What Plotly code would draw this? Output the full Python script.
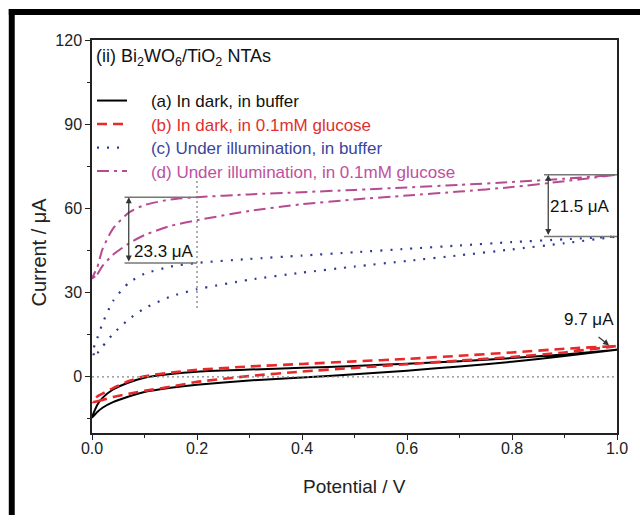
import plotly.graph_objects as go

# Potential grid (V) for each branch of the scans
potential = [0, 0.01, 0.02, 0.04, 0.07, 0.1, 0.15, 0.2, 0.3, 0.4, 0.5, 0.6, 0.7, 0.8, 0.9, 1.0]

# (a) In dark, in buffer
a_forward = [-14.5, -12.5, -11.0, -9.0, -7.0, -5.4, -3.9, -2.8, -1.3, -0.2, 0.9, 2.2, 3.7, 5.4, 7.4, 9.7]
a_reverse = [-14.5, -10.0, -7.5, -4.5, -2.0, -0.3, 1.0, 1.8, 2.6, 3.2, 3.9, 4.7, 5.6, 6.7, 8.0, 9.7]
# (b) In dark, in 0.1mM glucose
b_forward = [-9.0, -8.7, -8.2, -7.2, -6.0, -5.0, -3.5, -1.8, 0.3, 1.9, 3.2, 4.5, 5.8, 7.1, 8.7, 11.0]
b_reverse = [-9.0, -7.0, -6.0, -4.0, -1.5, 0.2, 1.5, 2.5, 3.7, 4.6, 5.5, 6.4, 7.5, 8.7, 10.0, 11.0]
# (c) Under illumination, in buffer
c_forward = [8.0, 8.5, 10.8, 15.3, 20.5, 24.4, 28.6, 31.2, 34.6, 37.1, 39.3, 41.3, 43.3, 45.4, 47.6, 50.0]
c_reverse = [8.0, 13.8, 19.0, 27.0, 33.5, 36.7, 39.3, 40.6, 42.0, 43.2, 44.4, 45.6, 46.8, 48.0, 49.0, 50.0]
# (d) Under illumination, in 0.1mM glucose
d_forward = [35.0, 36.5, 39.5, 43.5, 47.5, 50.5, 53.8, 55.8, 59.1, 61.5, 63.2, 64.6, 66.0, 67.6, 69.7, 72.0]
d_reverse = [35.0, 39.0, 45.5, 52.8, 58.5, 61.2, 63.2, 64.0, 65.0, 65.8, 66.6, 67.5, 68.4, 69.4, 70.6, 72.0]

names = ["(a) In dark, in buffer", "(b) In dark, in 0.1mM glucose",
         "(c) Under illumination, in buffer", "(d) Under illumination, in 0.1mM glucose"]
colors = ["#000000", "#e8282a", "#2e3b93", "#b84a92"]
text_colors = ["#111111", "#e03030", "#3a45a0", "#c050a0"]
dashes = ["solid", "10px,6px", "2px,8px", "12px,5px,3px,5px"]
widths = [2.0, 2.6, 2.2, 2.0]
series = [(a_forward, a_reverse), (b_forward, b_reverse), (c_forward, c_reverse), (d_forward, d_reverse)]

# annotation values
delta_left = [40.6, 64.0]   # at 0.2 V
delta_right = [50.0, 72.0]  # at 1.0 V

# plot-area pixel geometry (for paper-coordinate placement)
L, R, T, B = 92, 622, 40, 433
def px(xp):
    return (xp - L) / (R - L)
def py(yp):
    return (B - yp) / (B - T)

legend_rows = [101, 124.5, 148, 171.5]
legend_ids = ["legend", "legend2", "legend3", "legend4"]

fig = go.Figure()
pad = "\u00a0" * 4
for (fw, rv), nm, col, tc, ds, w, lid in zip(series, names, colors, text_colors, dashes, widths, legend_ids):
    xs = potential + potential[::-1]
    ys = fw + rv[::-1]
    fig.add_trace(go.Scatter(x=xs, y=ys, mode="lines", legend=lid,
                             line=dict(color=col, dash=ds, width=w, shape="spline", smoothing=0.6),
                             name=f"<span style='color:{tc}'>{pad}{nm}</span>"))

font = "Liberation Sans, Arial, sans-serif"
shapes = [
    dict(type="line", xref="x", yref="y", x0=0, x1=1, y0=0, y1=0, line=dict(color="#888", width=1.2, dash="2px,3px")),
    dict(type="line", xref="x", yref="y", x0=0.2, x1=0.2, y0=24.5, y1=71, line=dict(color="#777", width=1.2, dash="2px,3px")),
    dict(type="line", xref="x", yref="y", x0=0.062, x1=0.2, y0=delta_left[1], y1=delta_left[1], line=dict(color="#777", width=1.5)),
    dict(type="line", xref="x", yref="y", x0=0.062, x1=0.2, y0=delta_left[0], y1=delta_left[0], line=dict(color="#777", width=1.5)),
    dict(type="line", xref="x", yref="y", x0=0.861, x1=1.0, y0=delta_right[1], y1=delta_right[1], line=dict(color="#777", width=1.5)),
    dict(type="line", xref="x", yref="y", x0=0.861, x1=1.0, y0=delta_right[0], y1=delta_right[0], line=dict(color="#777", width=1.5)),
    # outer black frame (top and left)
    dict(type="rect", xref="paper", yref="paper", x0=px(8), x1=px(660), y0=py(9), y1=py(15),
         fillcolor="black", line=dict(width=0)),
    dict(type="rect", xref="paper", yref="paper", x0=px(8), x1=px(14), y0=py(9), y1=py(530),
         fillcolor="black", line=dict(width=0)),
]

ann_font = dict(family=font, size=17, color="#111")
annotations = [
    dict(xref="paper", yref="paper", x=px(94), y=py(58), xanchor="left", yanchor="middle",
         text="(ii) Bi<sub>2</sub>WO<sub>6</sub>/TiO<sub>2</sub> NTAs", showarrow=False,
         font=dict(family=font, size=18, color="#111")),
    dict(x=0.07, y=delta_left[1], ax=0.07, ay=delta_left[0], xref="x", yref="y", axref="x", ayref="y",
         text="", showarrow=True, arrowhead=2, startarrowhead=2, arrowside="end+start", arrowsize=1,
         arrowwidth=1.2, arrowcolor="#333", standoff=0, startstandoff=0),
    dict(x=0.137, y=44.6, xref="x", yref="y", text="23.3 μA", showarrow=False, font=ann_font),
    dict(x=0.869, y=delta_right[1], ax=0.869, ay=delta_right[0], xref="x", yref="y", axref="x", ayref="y",
         text="", showarrow=True, arrowhead=2, startarrowhead=2, arrowside="end+start", arrowsize=1,
         arrowwidth=1.2, arrowcolor="#333", standoff=0, startstandoff=0),
    dict(x=0.93, y=60.6, xref="x", yref="y", text="21.5 μA", showarrow=False, font=ann_font),
    dict(x=0.946, y=20.3, xref="x", yref="y", text="9.7 μA", showarrow=False, font=ann_font),
    dict(x=0.985, y=11.2, ax=0.962, ay=14.6, xref="x", yref="y", axref="x", ayref="y",
         text="", showarrow=True, arrowhead=2, arrowsize=1, arrowwidth=1.2, arrowcolor="#333", standoff=0),
    # axis titles
    dict(xref="paper", yref="paper", x=px(357), y=py(486), text="Potential / V", showarrow=False,
         xanchor="center", yanchor="middle", font=dict(family=font, size=19, color="#222")),
    dict(xref="paper", yref="paper", x=px(38), y=py(252), text="Current / μA", showarrow=False, textangle=-90,
         xanchor="center", yanchor="middle", font=dict(family=font, size=20, color="#222")),
]

axis_common = dict(showline=True, linecolor="#222", linewidth=1.5, mirror=True, ticks="outside",
                   ticklen=5, tickwidth=1.3, tickcolor="#222", showgrid=False, zeroline=False,
                   tickfont=dict(family=font, size=16, color="#222"))

legends = {}
for lid, row in zip(legend_ids, legend_rows):
    legends[lid] = dict(x=px(92), y=py(row), xanchor="left", yanchor="middle",
                        bgcolor="rgba(0,0,0,0)", font=dict(family=font, size=17))

fig.update_layout(
    width=640, height=515,
    margin=dict(l=L, r=640 - R, t=T, b=515 - B),
    paper_bgcolor="white", plot_bgcolor="white",
    xaxis=dict(range=[0, 1], dtick=0.2, tickformat=".1f", ticklabelstandoff=-5,
               minor=dict(dtick=0.1, ticks="outside", ticklen=3, tickcolor="#222", showgrid=False),
               **axis_common),
    yaxis=dict(range=[-20, 120], dtick=30, tick0=0,
               minor=dict(dtick=15, ticks="outside", ticklen=3, tickcolor="#222", showgrid=False),
               **axis_common),
    showlegend=True,
    shapes=shapes, annotations=annotations,
    **legends,
)

fig.write_html("out.html")
